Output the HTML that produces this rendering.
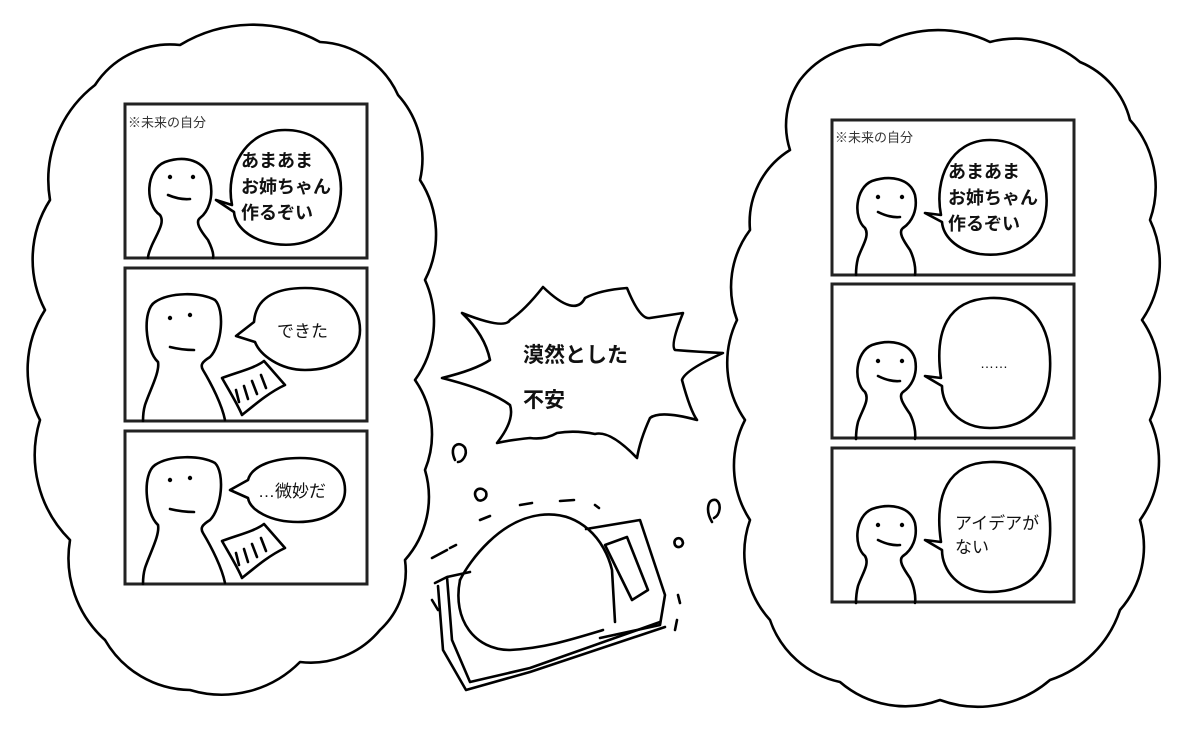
<!DOCTYPE html>
<html><head><meta charset="utf-8"><style>
html,body{margin:0;padding:0;background:#fff;width:1200px;height:738px;overflow:hidden}
svg{display:block}
text{font-family:"Liberation Sans","Noto Sans CJK JP",sans-serif;fill:#111}
.s{fill:none;stroke:#000;stroke-width:2.6;stroke-linecap:round;stroke-linejoin:round}
.f{fill:#fff;stroke:#000;stroke-width:2.6;stroke-linejoin:round}
.p{fill:#fff;stroke:#222;stroke-width:3}
.t{font-size:18px;font-weight:bold}
.l{font-size:13px;fill:#333}
</style></head><body>
<svg width="1200" height="738" viewBox="0 0 1200 738">
<!-- left cloud -->
<path class="s" d="M95,85 A90,90 0 0 1 180,45 A140,140 0 0 1 320,42 A90,90 0 0 1 398,95 A95,95 0 0 1 420,180 A100,100 0 0 1 425,280 A100,100 0 0 1 415,380 A95,95 0 0 1 425,470 A95,95 0 0 1 405,560 A80,80 0 0 1 380,630 A90,90 0 0 1 300,662 A110,110 0 0 1 190,690 A100,100 0 0 1 105,640 A110,110 0 0 1 70,540 A120,120 0 0 1 40,420 A110,110 0 0 1 45,310 A110,110 0 0 1 50,200 A120,120 0 0 1 95,85 Z"/>
<!-- right cloud -->
<path class="s" d="M790,150 A80,80 0 0 1 800,80 A90,90 0 0 1 880,45 A120,120 0 0 1 990,42 A100,100 0 0 1 1080,62 A85,85 0 0 1 1130,120 A100,100 0 0 1 1150,220 A100,100 0 0 1 1142,320 A100,100 0 0 1 1150,420 A100,100 0 0 1 1140,520 A95,95 0 0 1 1120,610 A110,110 0 0 1 1050,680 A110,110 0 0 1 940,700 A100,100 0 0 1 840,682 A95,95 0 0 1 770,620 A100,100 0 0 1 750,520 A100,100 0 0 1 745,420 A100,100 0 0 1 737,320 A95,95 0 0 1 750,230 A85,85 0 0 1 790,150 Z"/>

<!-- left panels -->
<rect class="p" x="125" y="104" width="242" height="154"/>
<rect class="p" x="125" y="268" width="242" height="153"/>
<rect class="p" x="125" y="431" width="242" height="153"/>
<text class="l" x="128" y="127">※未来の自分</text>
<path class="s" d="M160,215 C145,205 145,170 165,162 C185,155 205,160 210,180 C214,198 208,212 200,218 C195,222 200,230 208,240 C212,248 214,254 213,258 M160,215 C165,222 158,232 152,245 C149,252 148,256 148,258"/>
<circle cx="170" cy="177" r="2.2"/><circle cx="193" cy="177" r="2.2"/>
<path class="s" d="M168,195 Q180,200 190,199"/>
<path class="f" d="M232,205 C225,170 245,130 285,130 C330,130 345,170 340,200 C335,235 305,248 275,244 C248,240 235,225 234,212 L216,200 Z"/>
<text class="t" x="241" y="167">あまあま</text>
<text class="t" x="241" y="193">お姉ちゃん</text>
<text class="t" x="241" y="219">作るぞい</text>
<path class="s" d="M158,362 C145,350 142,310 155,302 C170,292 200,292 215,300 C225,310 222,345 210,357 C202,362 200,365 203,370 C212,385 222,405 225,420 M158,362 C160,372 150,390 145,405 C143,412 143,418 143,421"/>
<circle cx="170" cy="318" r="2.2"/><circle cx="190" cy="315" r="2.2"/>
<path class="s" d="M170,347 Q182,350 194,350"/>
<path class="f" d="M254,322 C256,295 280,288 305,288 C340,288 360,305 360,330 C360,355 335,370 305,370 C280,370 260,355 255,342 L236,336 Z"/>
<text x="277" y="337" style="font-size:17px">できた</text>
<path class="f" d="M222,378 C238,372 255,368 264,361 L285,385 C270,392 258,402 242,415 C238,405 230,392 222,378 Z"/>
<path class="s" d="M236,390 l3,12 M244,386 l4,13 M252,381 l5,13 M261,375 l5,13"/>
<path class="s" d="M158,525 C145,513 142,474 155,465 C170,455 200,455 215,463 C225,473 222,508 210,520 C202,525 200,528 203,533 C212,548 222,568 225,583 M158,525 C160,535 150,553 145,568 C143,575 143,581 143,584"/>
<circle cx="170" cy="480" r="2.2"/><circle cx="190" cy="478" r="2.2"/>
<path class="s" d="M170,509 Q182,512 194,512"/>
<path class="f" d="M248,480 C252,465 275,458 300,458 C330,458 345,470 345,490 C345,510 325,522 298,522 C270,522 250,510 248,498 L230,490 Z"/>
<text x="258" y="497" style="font-size:17px">…微妙だ</text>
<path class="f" d="M222,541 C238,535 255,531 264,524 L285,548 C270,555 258,565 242,578 C238,568 230,555 222,541 Z"/>
<path class="s" d="M236,553 l3,12 M244,549 l4,13 M252,544 l5,13 M261,538 l5,13"/>

<!-- right panels -->
<rect class="p" x="832" y="120" width="242" height="155"/>
<rect class="p" x="832" y="284" width="242" height="154"/>
<rect class="p" x="832" y="448" width="242" height="154"/>
<text class="l" x="835" y="142">※未来の自分</text>
<g id="rp">
<path class="s" d="M865,228 C853,218 855,188 872,181 C890,175 910,178 915,195 C918,210 912,222 903,228 C898,232 903,240 910,250 C914,258 916,268 915,275 M865,228 C870,236 862,246 858,258 C856,266 856,272 856,275"/>
<circle cx="878" cy="197" r="2.2"/><circle cx="902" cy="197" r="2.2"/>
<path class="s" d="M878,212 Q890,218 900,217"/>
</g>
<use href="#rp" y="164"/>
<use href="#rp" y="328"/>
<path class="f" d="M941,215 C934,180 950,140 990,140 C1035,140 1050,180 1046,210 C1042,245 1010,258 980,254 C955,250 943,235 942,222 L925,213 Z"/>
<text class="t" x="948" y="178">あまあま</text>
<text class="t" x="948" y="204">お姉ちゃん</text>
<text class="t" x="948" y="230">作るぞい</text>
<path class="f" d="M941,378 C934,330 948,300 990,298 C1035,296 1052,330 1050,370 C1048,410 1025,428 990,428 C958,428 942,405 942,386 L925,376 Z"/>
<text x="980" y="368" style="font-size:14px">……</text>
<path class="f" d="M941,542 C934,495 948,463 990,462 C1035,460 1052,495 1050,535 C1048,575 1025,592 990,592 C958,592 942,570 942,550 L925,540 Z"/>
<text x="955" y="529" style="font-size:17px">アイデアが</text>
<text x="955" y="553" style="font-size:17px">ない</text>

<!-- burst -->
<path class="s" d="M462,313 Q505,330 510,320 Q525,310 543,287 Q575,318 585,298 Q600,290 627,288 Q640,320 650,318 Q670,315 683,313 Q670,345 675,350 Q700,352 723,353 Q685,370 682,380 Q690,410 697,420 Q660,410 650,418 Q640,440 637,458 Q610,430 595,434 Q575,430 557,433 Q545,440 530,438 Q510,440 497,443 Q515,420 510,405 Q490,390 442,378 Q475,370 490,360 Q485,335 462,313 Z"/>
<text x="523" y="362" style="font-size:21px;font-weight:bold">漠然とした</text>
<text x="523" y="407" style="font-size:21px;font-weight:bold">不安</text>

<!-- sweat drops -->
<path class="s" d="M455,460 C448,445 460,440 465,448 C468,455 462,462 458,462"/>
<path class="s" d="M478,500 C470,492 480,484 486,492 C488,498 482,502 478,500"/>
<path class="s" d="M712,522 C705,510 708,498 716,500 C722,504 720,515 714,518"/>
<path class="s" d="M675,545 C672,538 682,535 683,543 C682,548 677,548 675,545"/>
<path class="s" d="M432,558 l15,-8 M450,548 l6,-3 M480,520 l10,-4 M520,505 l12,-2 M560,501 l14,-1 M595,505 l4,3 M678,595 l2,8 M677,620 l-2,10 M432,600 l6,10"/>

<!-- bed -->
<path class="s" d="M460,580 C470,560 500,520 540,515 C580,510 605,540 612,570 L615,622"/>
<path class="s" d="M460,580 C452,620 475,650 510,650 C545,648 570,640 603,630"/>
<path class="s" d="M586,529 L640,520 L665,595 L660,625 L600,638"/>
<path class="s" d="M605,545 L627,537 L648,590 L632,600 Z"/>
<path class="s" d="M447,577 L470,572 M435,583 L447,577 L452,640 L470,682 M438,586 L443,650 L466,690 L530,672 L665,627 M452,640 L470,682 L530,668 L660,622"/>
</svg>
</body></html>
